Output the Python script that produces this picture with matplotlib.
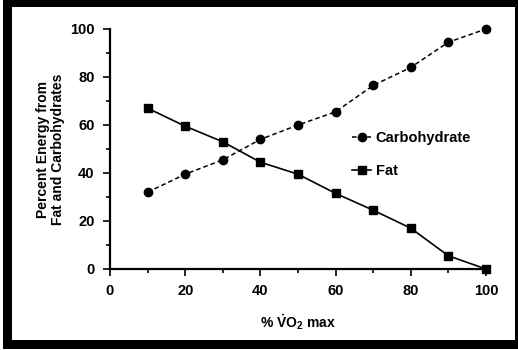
import matplotlib
matplotlib.use("Agg")
import matplotlib.pyplot as plt
from matplotlib.patches import Rectangle

# valores
vo2 = [10, 20, 30, 40, 50, 60, 70, 80, 90, 100]
carbohydrate = [32, 39.5, 45.5, 54, 60, 65.5, 76.5, 84, 94.5, 100]
fat = [67, 59.5, 53, 44.5, 39.5, 31.5, 24.5, 17, 5.5, 0]
ticks = [0, 20, 40, 60, 80, 100]
minor_ticks = [10, 30, 50, 70, 90]

plt.rcParams["font.family"] = ["Liberation Sans", "DejaVu Sans"]
plt.rcParams["font.weight"] = "bold"
plt.rcParams["axes.labelweight"] = "bold"
plt.rcParams["mathtext.fontset"] = "custom"
plt.rcParams["mathtext.rm"] = "Liberation Sans:bold"
plt.rcParams["mathtext.it"] = "Liberation Sans:bold:italic"

W, H = 518, 350
fig = plt.figure(figsize=(W / 100, H / 100), dpi=100)
ax = fig.add_axes([110 / W, 1 - 269 / H, (486 - 110) / W, (269 - 29) / H])

ax.plot(vo2, carbohydrate, color="black", linestyle=(0, (3, 2)), linewidth=1.1,
        marker="o", markersize=6, clip_on=False, label="Carbohydrate")
ax.plot(vo2, fat, color="black", linestyle="-", linewidth=1.2,
        marker="s", markersize=6, clip_on=False, label="Fat")

ax.set_xlim(0, 100)
ax.set_ylim(0, 100)
ax.set_xticks(ticks)
ax.set_yticks(ticks)
ax.set_xticks(minor_ticks, minor=True)
ax.set_yticks(minor_ticks, minor=True)
ax.tick_params(which="both", direction="out", width=1.2, labelsize=10.5, pad=6)
ax.tick_params(which="major", length=5)
ax.tick_params(which="minor", length=3)
for s in ["top", "right"]:
    ax.spines[s].set_visible(False)
for s in ["left", "bottom"]:
    ax.spines[s].set_linewidth(1.6)

ax.set_xlabel(r"% $\dot{\mathrm{V}}\mathrm{O}_2$ max", fontsize=10, labelpad=10)
ax.set_ylabel("Percent Energy from\nFat and Carbohydrates", fontsize=10,
              labelpad=4, linespacing=1.05)

ax.legend(loc="upper left", bbox_to_anchor=(0.61, 0.63), frameon=False,
          fontsize=10.5, handlelength=1.3, handletextpad=0.3, labelspacing=1.3)

# moldura preta grossa (digitalização)
def px_rect(x0, y0, x1, y1):
    fig.patches.append(Rectangle((x0 / W, 1 - y1 / H), (x1 - x0) / W, (y1 - y0) / H,
                                 transform=fig.transFigure, facecolor="black",
                                 edgecolor="none"))

px_rect(3, 0, 518, 7)      # topo
px_rect(3, 340, 518, 349)  # base
px_rect(3, 0, 12, 349)     # esquerda
px_rect(515, 0, 518, 349)  # direita

fig.savefig("out.png", dpi=100)
plt.close(fig)
